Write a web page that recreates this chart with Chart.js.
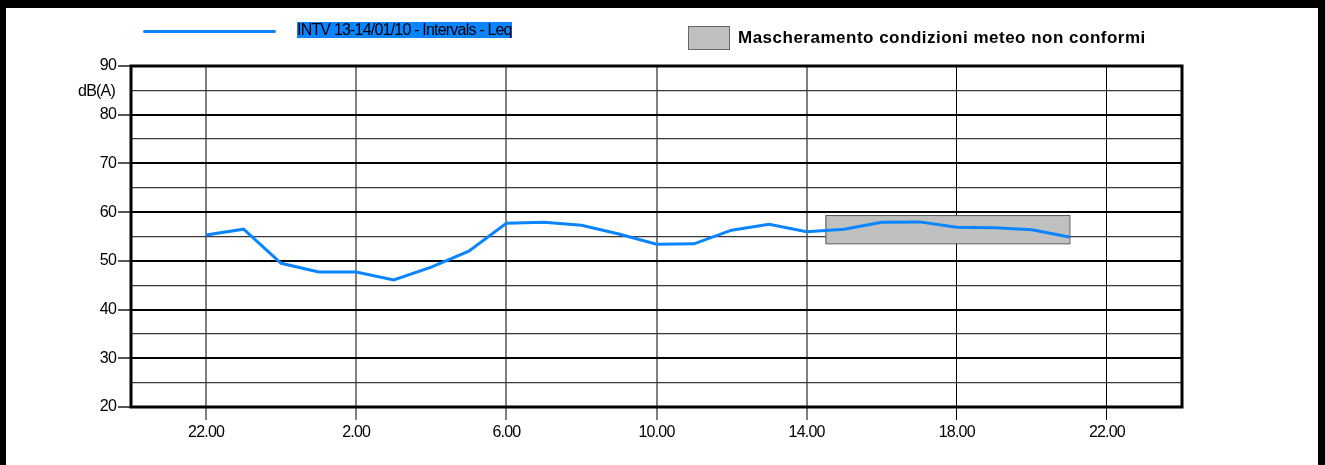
<!DOCTYPE html>
<html>
<head>
<meta charset="utf-8">
<script src="https://cdn.jsdelivr.net/npm/chart.js@4/dist/chart.umd.min.js"></script>
<style>
    body { margin: 0; background: #fff; }
    .page { position: relative; width: 1325px; height: 465px; overflow: hidden; font-family: "Liberation Sans", Arial, sans-serif; }
    .frame { position: absolute; left: 0; top: 0; width: 1312px; height: 465px; border-top: 8px solid #000; border-left: 6px solid #000; border-right: 7px solid #000; }
    #chart { position: absolute; left: 0; top: 0; }
    .leg-line { position: absolute; left: 143px; top: 30px; width: 133px; height: 3px; background: #0a84ff; border-radius: 2px; }
    .leg-text { position: absolute; left: 297px; top: 22px; height: 16px; line-height: 16px; width: 215px; background: #0a84ff; color: #000; font-size: 16px; letter-spacing: -0.8px; white-space: nowrap; overflow: hidden; }
    .mask-box { position: absolute; left: 688px; top: 26px; width: 40px; height: 22px; background: #c0c0c0; border: 1px solid #666; }
    .mask-text { position: absolute; left: 738px; top: 29px; line-height: 17px; font-size: 17px; font-weight: bold; letter-spacing: 0.5px; color: #000; white-space: nowrap; }
</style>
</head>
<body>
<div class="page">
    <canvas id="chart" width="1325" height="465"></canvas>
    <div class="frame"></div>
    <div class="leg-line"></div>
    <div class="leg-text">INTV 13-14/01/10 - Intervals - Leq</div>
    <div class="mask-box"></div>
    <div class="mask-text">Mascheramento condizioni meteo non conformi</div>
</div>
<script>
// hours counted from 20:00 of 13/01
const hours = [2, 3, 4, 5, 6, 7, 8, 9, 10, 11, 12, 13, 14, 15, 16, 17, 18, 19, 20, 21, 22, 23, 24, 25];
const leq = [55.3, 56.5, 49.5, 47.7, 47.7, 46.1, 48.7, 52.0, 57.7, 57.9, 57.3, 55.5, 53.4, 53.5, 56.3, 57.5, 56.0, 56.5, 57.9, 58.0, 56.9, 56.8, 56.4, 54.9];

const tickHours = [2, 6, 10, 14, 18, 22, 26];
const tickLabels = ["22.00", "2.00", "6.00", "10.00", "14.00", "18.00", "22.00"];

// masked period (non compliant weather)
const maskFrom = 18.5;
const maskTo = 25;
const maskLow = 53.6;
const maskHigh = 59.4;

const points = hours.map((h, i) => ({ x: h, y: leq[i] }));

const framePlugin = {
    id: 'framePlugin',
    beforeDraw(chart) {
        chart.ctx.letterSpacing = '-0.8px';
    },
    beforeDatasetsDraw(chart) {
        const { ctx, scales } = chart;
        const x1 = scales.x.getPixelForValue(maskFrom);
        const x2 = scales.x.getPixelForValue(maskTo);
        const y1 = scales.y.getPixelForValue(maskHigh);
        const y2 = scales.y.getPixelForValue(maskLow);
        ctx.save();
        ctx.fillStyle = '#c0c0c0';
        ctx.fillRect(x1, y1, x2 - x1, y2 - y1);
        ctx.strokeStyle = '#555';
        ctx.lineWidth = 1;
        ctx.strokeRect(x1 + 0.5, y1 + 0.5, x2 - x1, y2 - y1);
        ctx.restore();
    },
    afterDraw(chart) {
        const { ctx, chartArea: a, scales } = chart;
        ctx.save();
        ctx.strokeStyle = '#000';
        ctx.lineWidth = 3;
        ctx.strokeRect(a.left, a.top, a.right - a.left, a.bottom - a.top);
        ctx.fillStyle = '#000';
        ctx.font = '16px "Liberation Sans"';
        ctx.textAlign = 'right';
        ctx.textBaseline = 'middle';
        ctx.fillText('dB(A)', 115, scales.y.getPixelForValue(85) + 1);
        ctx.restore();
    }
};

Chart.defaults.font.family = '"Liberation Sans", Arial, sans-serif';
Chart.defaults.font.size = 16;
Chart.defaults.color = '#000';

new Chart(document.getElementById('chart'), {
    type: 'line',
    data: {
        datasets: [{
            label: 'INTV 13-14/01/10 - Intervals - Leq',
            data: points,
            borderColor: '#0a84ff',
            borderWidth: 3,
            pointRadius: 0,
            tension: 0,
            fill: false
        }]
    },
    options: {
        responsive: false,
        animation: false,
        layout: { padding: { left: 0, top: 66, right: 143, bottom: 18 } },
        plugins: {
            legend: { display: false },
            tooltip: { enabled: false }
        },
        scales: {
            x: {
                type: 'linear',
                min: 0,
                max: 28,
                afterBuildTicks: (scale) => {
                    scale.ticks = tickHours.map(v => ({ value: v }));
                },
                afterFit: (scale) => { scale.height = 40; },
                ticks: {
                    padding: 3,
                    maxRotation: 0,
                    autoSkip: false,
                    callback: (v) => tickLabels[tickHours.indexOf(v)]
                },
                grid: {
                    color: (c) => c.index < 5 ? '#808080' : '#000',
                    lineWidth: (c) => c.index < 5 ? 2 : 1,
                    tickLength: 13
                },
                border: { display: false }
            },
            y: {
                min: 20,
                max: 90,
                afterFit: (scale) => { scale.width = 131; },
                ticks: {
                    stepSize: 5,
                    padding: 2,
                    callback: (v) => v % 10 === 0 ? String(v) : ''
                },
                grid: {
                    color: (c) => c.tick && c.tick.value % 10 === 0 ? '#000' : '#3a3a3a',
                    lineWidth: (c) => c.tick && c.tick.value % 10 === 0 ? 2 : 1.3,
                    tickColor: (c) => c.tick && c.tick.value % 10 === 0 ? '#555' : 'rgba(0,0,0,0)',
                    tickLength: 13
                },
                border: { display: false }
            }
        }
    },
    plugins: [framePlugin]
});
</script>
</body>
</html>
